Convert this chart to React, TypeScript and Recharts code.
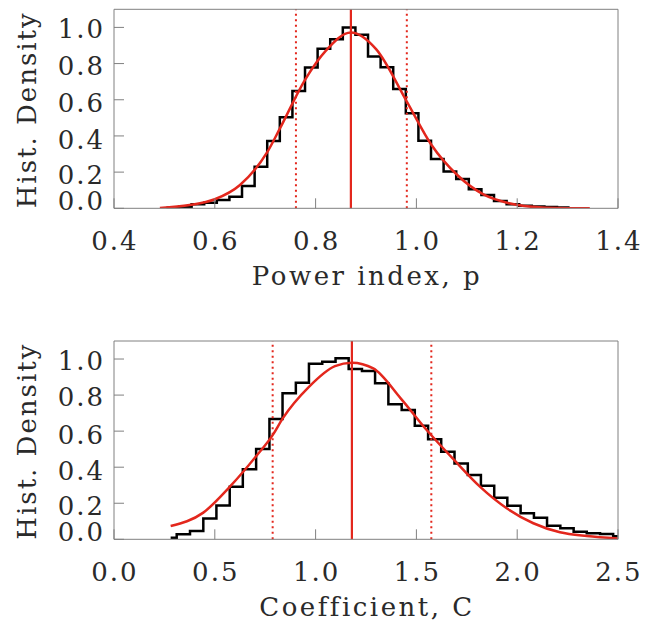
import React from "react";
import { ComposedChart, Line, XAxis, YAxis, ReferenceLine } from "recharts";

// ---- power index p (top panel) ----
const pEdges = [0.504, 0.529, 0.554, 0.579, 0.604, 0.629, 0.654, 0.679, 0.704, 0.729, 0.754, 0.779, 0.804, 0.829, 0.854, 0.879, 0.904, 0.929, 0.954, 0.979, 1.004, 1.029, 1.054, 1.079, 1.104, 1.129, 1.154, 1.179, 1.204, 1.229, 1.254, 1.279, 1.304];
const pHist = [0.003, 0.008, 0.022, 0.031, 0.046, 0.064, 0.123, 0.23, 0.372, 0.503, 0.649, 0.778, 0.882, 0.935, 1.0, 0.959, 0.839, 0.78, 0.66, 0.526, 0.374, 0.273, 0.203, 0.162, 0.105, 0.074, 0.04, 0.022, 0.014, 0.01, 0.007, 0.005];
const pFitX = [0.491, 0.55, 0.6, 0.65, 0.704, 0.729, 0.779, 0.82, 0.87, 0.92, 0.981, 1.03, 1.081, 1.133, 1.184, 1.25, 1.344];
const pFitY = [0.002, 0.018, 0.05, 0.129, 0.31, 0.44, 0.71, 0.87, 0.972, 0.88, 0.59, 0.35, 0.184, 0.077, 0.028, 0.005, 0.0];
const pMarks = { peak: 0.87, low: 0.761, high: 0.981 };
const pTicks = [0.4, 0.6, 0.8, 1.0, 1.2, 1.4];

// ---- coefficient C (bottom panel) ----
const cEdges = [0.281, 0.311, 0.377, 0.443, 0.508, 0.574, 0.639, 0.705, 0.771, 0.836, 0.902, 0.967, 1.033, 1.099, 1.164, 1.23, 1.295, 1.361, 1.427, 1.492, 1.558, 1.623, 1.689, 1.755, 1.82, 1.886, 1.951, 2.017, 2.083, 2.148, 2.214, 2.28, 2.345, 2.411, 2.476, 2.5];
const cHist = [0.009, 0.028, 0.046, 0.116, 0.187, 0.292, 0.388, 0.501, 0.667, 0.81, 0.869, 0.974, 0.985, 1.004, 0.944, 0.933, 0.865, 0.749, 0.717, 0.63, 0.555, 0.486, 0.421, 0.357, 0.297, 0.231, 0.186, 0.144, 0.12, 0.075, 0.061, 0.042, 0.033, 0.029, 0.017];
const cFitX = [0.281, 0.443, 0.575, 0.708, 0.787, 0.837, 0.967, 1.096, 1.18, 1.286, 1.422, 1.551, 1.687, 1.815, 1.948, 2.08, 2.212, 2.345, 2.5];
const cFitY = [0.074, 0.148, 0.292, 0.465, 0.578, 0.671, 0.846, 0.961, 0.98, 0.948, 0.782, 0.606, 0.44, 0.292, 0.172, 0.089, 0.039, 0.018, 0.005];
const cMarks = { peak: 1.18, low: 0.787, high: 1.574 };
const cTicks = [0, 0.5, 1.0, 1.5, 2.0, 2.5];

const yTicks = [0, 0.2, 0.4, 0.6, 0.8, 1.0];

const W = 655;
const LEFT = 114;
const RIGHT = 37;
const AX = 1; // every axis needs a non-zero size to be drawn
const RED = "#e3271d";
const FRAME = "#808080";
const FONT = "'DejaVu Serif', serif";
const INK = "#2a2a2a";
const FS = 26;

const range = (a: number, b: number, step: number) =>
  Array.from({ length: Math.round((b - a) / step) + 1 }, (_, i) => +(a + i * step).toFixed(4));

const toSteps = (edges: number[], vals: number[]) =>
  edges.map((x, i) => ({ x, y: vals[Math.min(i, vals.length - 1)] }));
const toPoints = (xs: number[], ys: number[]) => xs.map((x, i) => ({ x, y: ys[i] }));

// labels near the bottom are nudged the way the original figure has them
const yShift: Record<string, number> = { "1.0": 1.2, "0.8": 1.6, "0.6": 3, "0.4": 3.3, "0.2": 2.5, "0.0": -7.5 };

const XTick = ({ x, payload, base }: any) => (
  <text x={x + 1} y={base} textAnchor="middle" fontFamily={FONT} fontSize={FS} letterSpacing={2} fill={INK}>
    {payload.value.toFixed(1)}
  </text>
);

const YTick = ({ y, payload }: any) => {
  const s = payload.value.toFixed(1);
  return (
    <text x={105} y={y + (yShift[s] ?? 0) + 9.5} textAnchor="end" fontFamily={FONT} fontSize={FS} letterSpacing={2} fill={INK}>
      {s}
    </text>
  );
};

const Title = ({ tx, ty, rot, text, ls }: any) => (
  <text
    x={tx}
    y={ty}
    textAnchor="middle"
    fontFamily={FONT}
    fontSize={FS}
    letterSpacing={ls}
    fill={INK}
    transform={rot ? `rotate(-90, ${tx}, ${ty})` : undefined}
  >
    {text}
  </text>
);

function Panel({ height, top, bottom, domain, major, minor, xTitle, hist, fit, marks }: any) {
  const plotBottom = height - bottom;
  const cx = (LEFT + W - RIGHT) / 2;
  const cy = (top + plotBottom) / 2;
  const yMinor = range(0, 1.1, 0.05);
  const common = { type: "number" as const, domain, allowDataOverflow: true, interval: 0 as const, height: AX };
  const ycommon = { type: "number" as const, domain: [0, 1.1], allowDataOverflow: true, interval: 0 as const, width: AX };
  const margin = { top: top - 2 * AX, right: RIGHT - 2 * AX, bottom: bottom - 2 * AX, left: LEFT - 2 * AX };
  return (
    <ComposedChart width={W} height={height} margin={margin}>
      <XAxis
        xAxisId="main"
        {...common}
        dataKey="x"
        ticks={major}
        tickSize={-10}
        tick={<XTick base={plotBottom + 41.5} />}
        axisLine={{ stroke: FRAME }}
        tickLine={{ stroke: FRAME }}
        label={<Title tx={cx + 1} ty={plotBottom + 76.5} ls={2.5} text={xTitle} />}
      />
      <XAxis xAxisId="xm" {...common} dataKey="x" ticks={minor} tickSize={-6} tick={false} axisLine={false} tickLine={{ stroke: FRAME }} />
      <XAxis xAxisId="t" orientation="top" {...common} dataKey="x" ticks={major} tickSize={-10} tick={false} axisLine={{ stroke: FRAME }} tickLine={{ stroke: FRAME }} />
      <XAxis xAxisId="tm" orientation="top" {...common} dataKey="x" ticks={minor} tickSize={-6} tick={false} axisLine={false} tickLine={{ stroke: FRAME }} />

      <YAxis
        yAxisId="main"
        {...ycommon}
        ticks={yTicks}
        tickSize={-10}
        tick={<YTick />}
        axisLine={{ stroke: FRAME }}
        tickLine={{ stroke: FRAME }}
        label={<Title tx={36} ty={cy + 1} rot ls={2} text="Hist. Density" />}
      />
      <YAxis yAxisId="ym" {...ycommon} ticks={yMinor} tickSize={-6} tick={false} axisLine={false} tickLine={{ stroke: FRAME }} />
      <YAxis yAxisId="r" orientation="right" {...ycommon} ticks={yTicks} tickSize={-10} tick={false} axisLine={{ stroke: FRAME }} tickLine={{ stroke: FRAME }} />
      <YAxis yAxisId="rm" orientation="right" {...ycommon} ticks={yMinor} tickSize={-6} tick={false} axisLine={false} tickLine={{ stroke: FRAME }} />

      <Line
        xAxisId="main"
        yAxisId="main"
        data={hist}
        dataKey="y"
        type="stepAfter"
        stroke="#000"
        strokeWidth={2.5}
        dot={false}
        activeDot={false}
        isAnimationActive={false}
      />
      <Line
        xAxisId="main"
        yAxisId="main"
        data={fit}
        dataKey="y"
        type="monotone"
        stroke={RED}
        strokeWidth={2.5}
        dot={false}
        activeDot={false}
        isAnimationActive={false}
      />
      <ReferenceLine xAxisId="main" yAxisId="main" x={marks.peak} stroke={RED} strokeWidth={2.2} />
      <ReferenceLine xAxisId="main" yAxisId="main" x={marks.low} stroke={RED} strokeWidth={2} strokeDasharray="2 3.5" />
      <ReferenceLine xAxisId="main" yAxisId="main" x={marks.high} stroke={RED} strokeWidth={2} strokeDasharray="2 3.5" />
    </ComposedChart>
  );
}

export default function App() {
  return (
    <div style={{ position: "absolute", left: 0, top: 0, width: W, height: 622, background: "#fff" }}>
      <Panel
        height={310}
        top={9.3}
        bottom={101.7}
        domain={[0.4, 1.4]}
        major={pTicks}
        minor={range(0.4, 1.4, 0.05)}
        xTitle="Power index, p"
        hist={toSteps(pEdges, pHist)}
        fit={toPoints(pFitX, pFitY)}
        marks={pMarks}
      />
      <Panel
        height={312}
        top={31}
        bottom={82.7}
        domain={[0, 2.5]}
        major={cTicks}
        minor={range(0, 2.5, 0.1)}
        xTitle="Coefficient, C"
        hist={toSteps(cEdges, cHist)}
        fit={toPoints(cFitX, cFitY)}
        marks={cMarks}
      />
    </div>
  );
}
